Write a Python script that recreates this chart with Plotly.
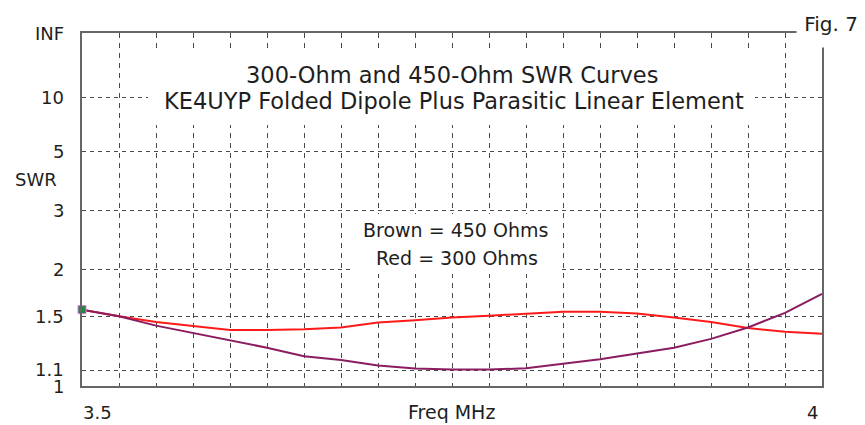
import plotly.graph_objects as go

# ---- data ----
freq_mhz = [3.500, 3.525, 3.550, 3.575, 3.600, 3.625, 3.650, 3.675, 3.700, 3.725,
            3.750, 3.775, 3.800, 3.825, 3.850, 3.875, 3.900, 3.925, 3.950, 3.975, 4.000]
swr_300 = [1.56, 1.50, 1.45, 1.415, 1.385, 1.385, 1.39, 1.405, 1.445, 1.465,
           1.49, 1.505, 1.525, 1.54, 1.54, 1.525, 1.49, 1.45, 1.40, 1.37, 1.355]
swr_450 = [1.56, 1.50, 1.42, 1.36, 1.30, 1.25, 1.19, 1.165, 1.13, 1.11,
           1.104, 1.104, 1.112, 1.142, 1.17, 1.21, 1.25, 1.315, 1.405, 1.53, 1.715]
swr_grid = [1.1, 1.5, 2, 3, 5, 10]
swr_tick_vals = [1.1, 1.5, 2, 3, 5, 10, None]
swr_tick_text = ["1.1", "1.5", "2", "3", "5", "10", "INF"]
x_tick_vals = [3.5, 4.0]
x_tick_text = ["3.5", "4"]


def rho(s):
    """SWR -> reflection coefficient (SWR scale used by the chart)."""
    if s is None:
        return 1.0
    return (s - 1.0) / (s + 1.0)


FONT = "DejaVu Sans"
TXT = "#1e1e1e"
W, H = 865, 425
L, R, T, B = 82, 43, 33, 39
PW, PH = W - L - R, H - T - B


def px(x):
    return (x - L) / PW


def py(y):
    return (H - B - y) / PH


fig = go.Figure()
fig.add_trace(go.Scatter(x=freq_mhz, y=[rho(s) for s in swr_300], mode="lines",
                         line=dict(color="#ff1a1a", width=2), name="300 Ohms",
                         hoverinfo="skip"))
fig.add_trace(go.Scatter(x=freq_mhz, y=[rho(s) for s in swr_450], mode="lines",
                         line=dict(color="#8b1c60", width=2), name="450 Ohms",
                         hoverinfo="skip"))
fig.add_trace(go.Scatter(x=freq_mhz[:1], y=[rho(swr_300[0])], mode="markers",
                         marker=dict(color="#1b8a3c", size=8, symbol="square",
                                     line=dict(color="#e27ae2", width=1)),
                         cliponaxis=False, hoverinfo="skip"))

fig.update_layout(
    width=W, height=H, margin=dict(l=L, r=R, t=T, b=B),
    paper_bgcolor="white", plot_bgcolor="white", showlegend=False,
    font=dict(family=FONT, color=TXT),
    xaxis=dict(range=[3.5, 4.0], tick0=3.5, dtick=0.025, showticklabels=False,
               ticks="", showgrid=True, gridcolor="#4a4a4a", gridwidth=1.4,
               griddash="5px,5px", zeroline=False, showline=True,
               linecolor="#666666", linewidth=2, mirror=True),
    yaxis=dict(range=[0.003, 1.0], tickmode="array",
               tickvals=[rho(s) for s in swr_grid], showticklabels=False,
               ticks="", showgrid=True, gridcolor="#4a4a4a", gridwidth=1.4,
               griddash="4px,4px", zeroline=False, showline=True,
               linecolor="#666666", linewidth=2, mirror=True),
)

# white boxes that interrupt the grid behind the texts
fig.add_shape(type="rect", xref="paper", yref="paper",
              x0=px(148), x1=px(755), y0=py(125), y1=py(52),
              fillcolor="white", line=dict(width=0), layer="above")
fig.add_shape(type="rect", xref="paper", yref="paper",
              x0=px(350), x1=px(558), y0=py(274), y1=py(214),
              fillcolor="white", line=dict(width=0), layer="above")

ann = []
ann.append(dict(text="300-Ohm and 450-Ohm SWR Curves", x=px(452), y=py(75),
                font=dict(size=22.5)))
ann.append(dict(text="KE4UYP Folded Dipole Plus Parasitic Linear Element",
                x=px(454), y=py(100.5), font=dict(size=22.5)))
ann.append(dict(text="Brown = 450 Ohms", x=px(456), y=py(230), font=dict(size=19)))
ann.append(dict(text="Red = 300 Ohms", x=px(456.5), y=py(258), font=dict(size=19)))
ann.append(dict(text="SWR", x=px(36), y=py(179), font=dict(size=18)))
ann.append(dict(text="Freq MHz", x=px(451), y=py(412), font=dict(size=19)))
ann.append(dict(text="1", x=px(66), y=py(386), xanchor="right", font=dict(size=18)))
for a in ann:
    a.update(xref="paper", yref="paper", showarrow=False, yanchor="middle")
    a.setdefault("xanchor", "center")

# corner label covering the frame corner
ann.append(dict(text="Fig. 7", xref="paper", yref="paper", x=px(796), y=py(0),
                xanchor="left", yanchor="top", showarrow=False,
                bgcolor="white", width=66, height=44, align="center",
                valign="middle", borderpad=1, font=dict(size=20)))

# y tick labels on the SWR scale
for v, t in zip(swr_tick_vals, swr_tick_text):
    ann.append(dict(text=t, xref="paper", yref="y", x=px(66), y=rho(v),
                    xanchor="right", yanchor="middle", showarrow=False,
                    font=dict(size=18), yshift=1 if t == "1.1" else 0))
# x tick labels
ann.append(dict(text=x_tick_text[0], xref="x", yref="paper", x=x_tick_vals[0],
                y=py(412), xanchor="left", yanchor="middle", showarrow=False,
                font=dict(size=18), xshift=-1))
ann.append(dict(text=x_tick_text[1], xref="x", yref="paper", x=x_tick_vals[1],
                y=py(412), xanchor="right", yanchor="middle", showarrow=False,
                font=dict(size=18), xshift=-2))

fig.update_layout(annotations=ann)
fig.write_html("out.html", config={"displayModeBar": False},
               post_script="document.body.style.margin='0';"
                           "document.body.style.overflow='hidden';")
